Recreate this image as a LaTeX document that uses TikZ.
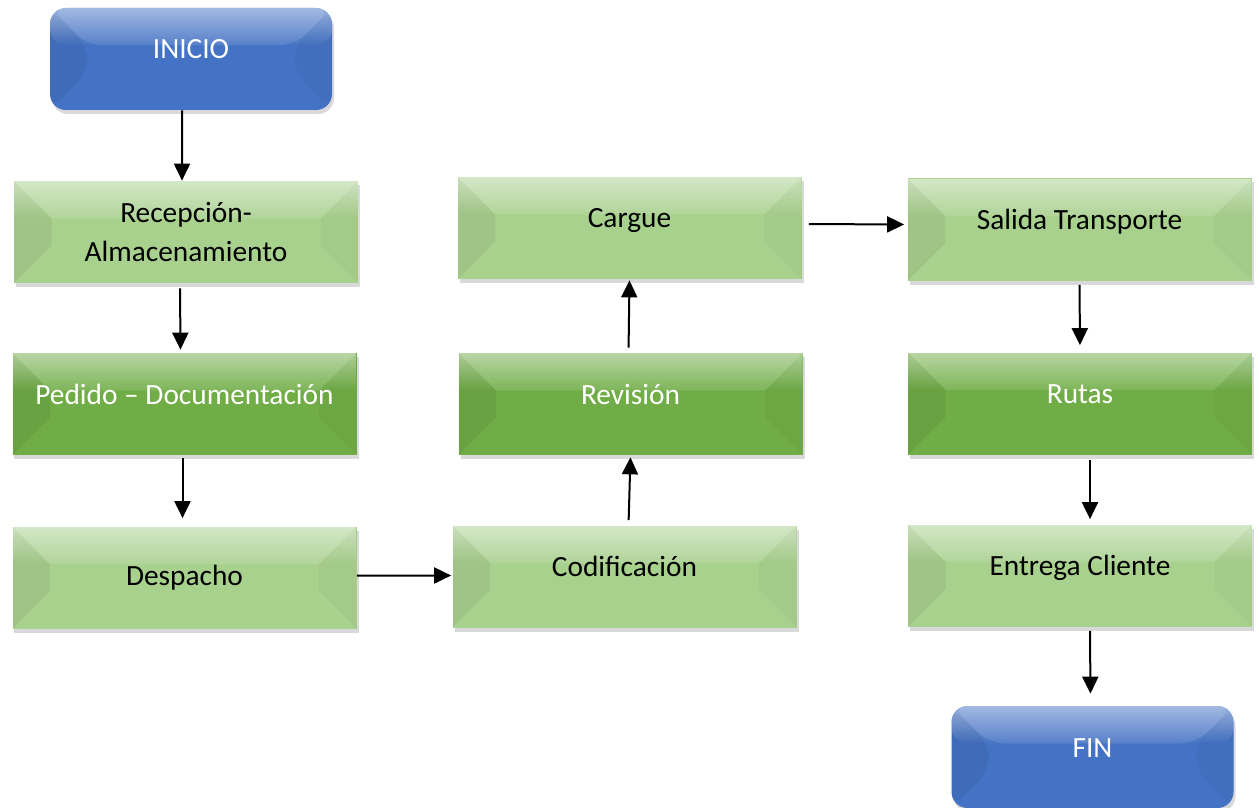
\documentclass[tikz,border=0pt]{standalone}
\usepackage{fontspec}
\setmainfont{Carlito}
\usetikzlibrary{arrows.meta,shadows,fadings}
\definecolor{leaf}{HTML}{A9D18E}
\definecolor{grass}{HTML}{70AD47}
\definecolor{sky}{HTML}{4472C4}

\begin{document}
\begin{tikzpicture}[
  bevel/.style={path picture={
    \path (path picture bounding box.north west) coordinate (pnw)
          (path picture bounding box.south east) coordinate (pse);
    \fill[black, opacity=.06] (pnw) -- ++(0.75,-0.75) -- ([shift={(0.75,0.75)}]pnw|-pse) -- (pnw|-pse) -- cycle;
    \fill[black, opacity=.03] (pse) -- ++(-0.75,0.75) -- ([shift={(-0.75,-0.75)}]pse|-pnw) -- (pse|-pnw) -- cycle;
    \fill[white, opacity=.1] (pnw) -- ++(0.75,-0.75) -- ([shift={(-0.75,-0.75)}]pse|-pnw) -- (pse|-pnw) -- cycle;
    \fill[white, opacity=.45, path fading=south] (pnw) rectangle ([yshift=-0.75cm]pse|-pnw);}},
  box/.style={rectangle, minimum width=6.88cm, minimum height=2.04cm, inner sep=0pt, align=center,
    font=\fontsize{16.7}{22.7}\selectfont, bevel,
    drop shadow={shadow xshift=0.04cm, shadow yshift=-0.08cm, opacity=.3}},
  light/.style={box, fill=leaf, text=black},
  dark/.style={box, fill=grass, text=white},
  term/.style={box, minimum width=5.64cm, rounded corners=0.32cm, fill=sky, text=white},
  lift/.style={text height=0.35cm, text depth=0.35cm},
  arr/.style={-{Triangle[length=0.34cm,width=0.32cm]}, line width=0.04cm, black}]
\useasboundingbox (0,0) rectangle (25.18,-16.14);
% first column
\node[term, lift] (ini) at (3.82,-1.18) {INICIO};
\node[light] (rec) at (3.72,-4.64) {Recepción-\\Almacenamiento};
\node[dark, lift] (ped) at (3.69,-8.08) {Pedido – Documentación};
\node[light] (des) at (3.69,-11.55) {Despacho};
% second column
\node[light, lift] (cod) at (12.49,-11.53) {Codificación};
\node[dark, lift] (rev) at (12.61,-8.08) {Revisión};
\node[light, lift] (car) at (12.59,-4.56) {Cargue};
% third column
\node[light, lift] (sal) at (21.59,-4.59) {Salida Transporte};
\node[dark, lift] (rut) at (21.6,-8.07) {Rutas};
\node[light, lift] (ent) at (21.6,-11.51) {Entrega Cliente};
\node[term, lift] (fin) at (21.85,-15.14) {FIN};
% connectors
\draw[arr] ([xshift=-0.18cm]ini.south) -- ([xshift=-0.08cm]rec.north);
\draw[arr, shorten <=0.1cm, shorten >=0.06cm] ([xshift=-0.12cm]rec.south) -- ([xshift=-0.08cm]ped.north);
\draw[arr, shorten <=0.06cm, shorten >=0.16cm] ([xshift=-0.04cm]ped.south) -- ([xshift=-0.04cm]des.north);
\draw[arr, shorten >=0.02cm] ([yshift=0.04cm]des.east) -- ([yshift=0.02cm]cod.west);
\draw[arr, shorten <=0.1cm, shorten >=0.04cm] ([xshift=0.08cm]cod.north) -- (rev.south);
\draw[arr, shorten <=0.1cm, shorten >=0.02cm] ([xshift=-0.04cm]rev.north) -- (car.south);
\draw[arr, shorten <=0.14cm, shorten >=0.06cm] ([yshift=0.08cm]car.east) -- ([yshift=0.1cm]sal.west);
\draw[arr, shorten <=0.08cm, shorten >=0.14cm] (sal.south) -- (rut.north);
\draw[arr, shorten <=0.1cm, shorten >=0.1cm] ([xshift=0.2cm]rut.south) -- ([xshift=0.2cm]ent.north);
\draw[arr, shorten <=0.08cm, shorten >=0.24cm] ([xshift=0.2cm]ent.south) -- ([xshift=-0.04cm]fin.north);
\end{tikzpicture}
\end{document}
